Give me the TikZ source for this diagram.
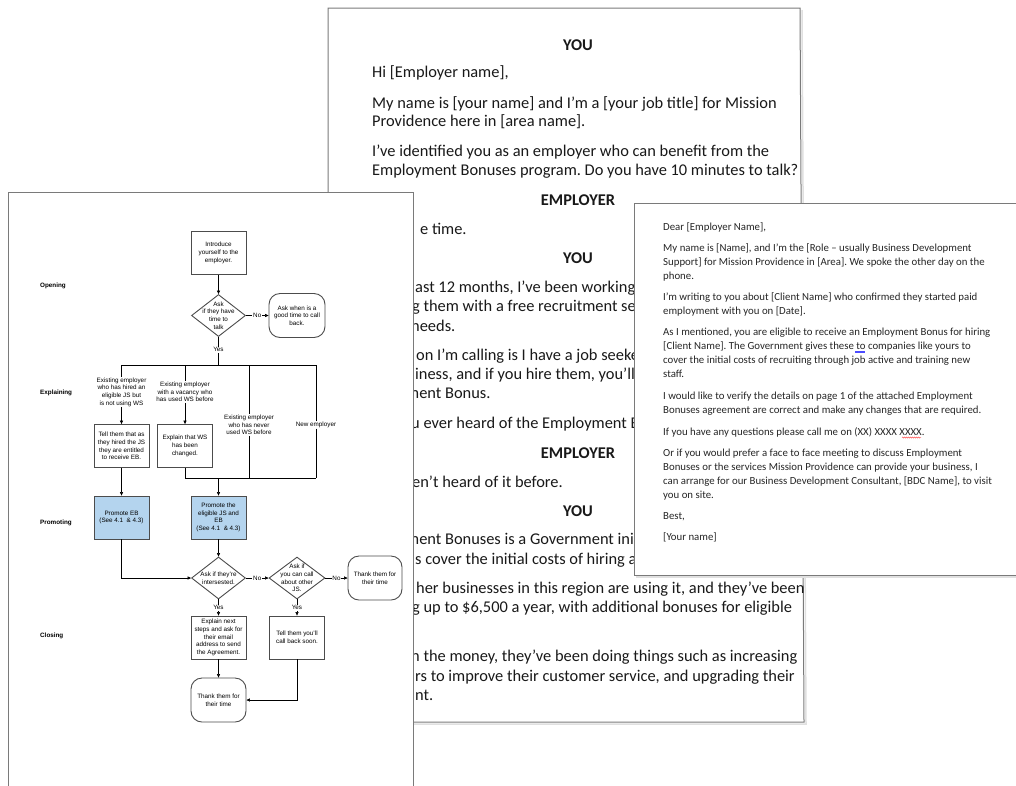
\documentclass[tikz,border=0pt]{standalone}
\usepackage{fontspec}
\setmainfont{Carlito}
\newfontfamily\flowfont{Liberation Sans}
\usetikzlibrary{arrows.meta,shapes.geometric,positioning,decorations.pathmorphing}

\definecolor{flowblue}{HTML}{B4D4EE}
\definecolor{pagegray}{HTML}{7A7A7A}

\tikzset{
  page/.style={draw=pagegray, line width=1pt, fill=white},
  pageshadow/.style={draw=black!12, line width=1.5pt},
  script/.style={font=\fontsize{16.4}{19}\selectfont, text=black!90, anchor=base west, inner sep=0pt},
  speaker/.style={font=\fontsize{16.4}{19}\selectfont\bfseries, text=black!90, anchor=base, inner sep=0pt},
  letter/.style={font=\fontsize{10.8}{14}\selectfont, text=black!85, anchor=base west, inner sep=0pt},
  flowtxt/.style={font=\flowfont\fontsize{6.3}{7.7}\selectfont, align=center, inner sep=0.6pt},
  stage/.style={font=\flowfont\fontsize{6.3}{7.7}\selectfont\bfseries, anchor=west, inner sep=0pt},
  stepbox/.style={flowtxt, draw=black!70, line width=0.9pt, fill=white, minimum width=55pt, minimum height=43pt},
  bluebox/.style={stepbox, fill=flowblue},
  decision/.style={diamond, draw=black!70, line width=0.9pt, fill=white, minimum width=54pt, minimum height=42pt, inner sep=0pt},
  terminal/.style={stepbox, rounded corners=11pt, minimum width=56pt, minimum height=44pt},
  flow/.style={draw=black, line width=0.6pt},
  flowarrow/.style={flow, -{Triangle[length=3.5pt,width=3.2pt]}},
  case/.style={flowtxt, fill=white},
  answer/.style={flowtxt, fill=white, inner sep=0.8pt},
}

\begin{document}
\frenchspacing
\begin{tikzpicture}[x=1pt, y=-1pt]

  \useasboundingbox (0,0) rectangle (1016,785);
  \fill[white] (0,0) rectangle (1016,785);

  % Mittlere Seite (Gespraechsleitfaden)
  \draw[pageshadow] (802,10) -- (806,724) -- (330,724);
  \draw[page] (328,8) -- (800,8) -- (804,722) -- (328,722) -- cycle;

  \node[speaker] (you1) at (578,50) {YOU};
  \node[script] (hi) at (372,77) {Hi [Employer name],};
  \node[script] (intro1) at (372,108) {My name is [your name] and I’m a [your job title] for Mission};
  \node[script] (intro2) at (372,126) {Providence here in [area name].};
  \node[script] (ident1) at (372,156) {I’ve identified you as an employer who can benefit from the};
  \node[script] (ident2) at (372,175) {Employment Bonuses program. Do you have 10 minutes to talk?};
  \node[speaker] (emp1) at (578,205) {EMPLOYER};
  \node[speaker] (you2) at (578,263) {YOU};
  \node[speaker] (emp2) at (578,458) {EMPLOYER};
  \node[speaker] (you3) at (578,516) {YOU};

  \foreach \x/\y/\t [count=\i] in {
      420/234/{e time.},
      415/292/{ast 12 months, I’ve been working w},
      412/311/{g them with a free recruitment ser},
      411/331/{needs.},
      416/360/{on I’m calling is I have a job seeker},
      415/379/{iness, and if you hire them, you’ll b},
      406/398/{ment Bonus.},
      411/428/{u ever heard of the Employment Bo},
      412/487/{en’t heard of it before.},
      406/544/{ment Bonuses is a Government initi},
      415/564/{s cover the initial costs of hiring ar},
      416/593/{her businesses in this region are using it, and they’ve been},
      412/612/{g up to \$6,500 a year, with additional bonuses for eligible},
      411/661/{n the money, they’ve been doing things such as increasing},
      415/681/{rs to improve their customer service, and upgrading their},
      415/700/{nt.}}
    \node[script] (line\i) at (\x,\y) {\t};

  % Linke Seite (Flussdiagramm)
  \draw[page] (8,192) rectangle (413,800);

  \node[stage] (opening) at (40,286) {Opening};
  \node[stage] (explaining) at (40,393) {Explaining};
  \node[stage] (promoting) at (40,523) {Promoting};
  \node[stage] (closing) at (40,636) {Closing};

  \node[stepbox] (introduce) at (218.5,253) {Introduce\\yourself to the\\employer.};
  \node[decision, label={[flowtxt]center:{Ask\\if they have\\time to\\talk}}] (ask1) at (218.5,315.5) {};
  \node[terminal] (callback) at (297,315.5) {Ask when is a\\good time to call\\back.};

  \coordinate (bus) at (218.5,365);
  \node[case] (case1) at (121.5,392) {Existing employer\\who has hired an\\eligible JS but\\is not using WS};
  \node[case] (case2) at (185,392) {Existing employer\\with a vacancy who\\has used WS before};
  \node[case] (case3) at (249,425) {Existing employer\\who has never\\used WS before};
  \node[case] (case4) at (316,425) {New employer};

  \node[stepbox] (tell) at (121.5,446) {Tell them that as\\they hired the JS\\they are entitled\\to receive EB.};
  \node[stepbox] (explain) at (185,446) {Explain that WS\\has been\\changed.};
  \coordinate (lowbus) at (218.5,478);

  \node[bluebox] (promote1) at (121.5,517.5) {Promote EB\\(See 4.1 \ \& 4.3)};
  \node[bluebox] (promote2) at (218.5,517.5) {Promote the\\eligible JS and\\EB\\(See 4.1 \ \& 4.3)};

  \node[decision, label={[flowtxt]center:{Ask if they’re\\intersested.}}] (ask2) at (218.5,578) {};
  \node[decision, minimum width=56pt, label={[flowtxt]center:{Ask if\\you can call\\about other\\JS.}}] (ask3) at (297,578) {};
  \node[terminal, minimum width=54pt] (thanks1) at (375,578) {Thank them for\\their time};

  \node[stepbox] (nextsteps) at (218.5,637.5) {Explain next\\steps and ask for\\their email\\address to send\\the Agreement.};
  \node[stepbox] (soon) at (297,637.5) {Tell them you’ll\\call back soon.};
  \node[terminal, minimum width=55pt] (thanks2) at (218.5,700) {Thank them for\\their time};

  % Verbindungen
  \draw[flowarrow] (introduce) -- (ask1);
  \draw[flowarrow] (ask1) -- node[answer] {No} (callback);
  \draw[flow] (ask1.south) -- node[answer, pos=0.45] {Yes} (bus);
  \draw[flow] (case1 |- bus) -- (case4 |- bus);
  \draw[flow] (case1 |- bus) -- (case1);
  \draw[flow] (case2 |- bus) -- (case2);
  \draw[flow] (case3 |- bus) -- (case3);
  \draw[flow] (case4 |- bus) -- (case4);
  \draw[flowarrow] (case1) -- (tell);
  \draw[flowarrow] (case2) -- (explain);
  \draw[flow] (explain.south) -- (explain |- lowbus) -- (case4 |- lowbus);
  \draw[flow] (case3) -- (case3 |- lowbus);
  \draw[flow] (case4) -- (case4 |- lowbus);
  \draw[flowarrow] (lowbus) -- (promote2);
  \draw[flowarrow] (tell) -- (promote1);
  \draw[flowarrow] (promote2) -- (ask2);
  \draw[flowarrow] (promote1.south) |- (ask2.west);
  \draw[flowarrow] (ask2) -- node[answer] {No} (ask3);
  \draw[flowarrow] (ask3) -- node[answer] {No} (thanks1);
  \draw[flowarrow] (ask2) -- node[answer] {Yes} (nextsteps);
  \draw[flowarrow] (ask3) -- node[answer] {Yes} (soon);
  \draw[flowarrow] (nextsteps) -- (thanks2);
  \draw[flowarrow] (soon.south) |- (thanks2.east);

  % Rechte Seite (Brief)
  \draw[pageshadow] (636,577) -- (1030,577);
  \draw[page] (634,203) rectangle (1030,575);

  \foreach \y/\t [count=\i] in {
      230/{Dear [Employer Name],},
      251/{My name is [Name], and I’m the [Role – usually Business Development},
      265/{Support] for Mission Providence in [Area]. We spoke the other day on the},
      279/{phone.},
      300/{I’m writing to you about [Client Name] who confirmed they started paid},
      314/{employment with you on [Date].},
      335/{As I mentioned, you are eligible to receive an Employment Bonus for hiring},
      349/{[Client Name]. The Government gives these to companies like yours to},
      363/{cover the initial costs of recruiting through job active and training new},
      377/{staff.},
      399/{I would like to verify the details on page 1 of the attached Employment},
      413/{Bonuses agreement are correct and make any changes that are required.},
      435/{If you have any questions please call me on (XX) XXXX XXXX.},
      456/{Or if you would prefer a face to face meeting to discuss Employment},
      470/{Bonuses or the services Mission Providence can provide your business, I},
      484/{can arrange for our Business Development Consultant, [BDC Name], to visit},
      498/{you on site.},
      519/{Best,},
      540/{[Your name]}}
    \node[letter] (letter\i) at (663,\y) {\t};

  % Markierungen der Rechtschreibpruefung
  \draw[red!80, line width=0.4pt, decorate, decoration={snake, amplitude=0.6pt, segment length=2pt}] (902,437.5) -- (921,437.5);
  \draw[blue!70, line width=0.3pt] (855,351) -- (865,351) (855,352.5) -- (865,352.5);

\end{tikzpicture}
\end{document}
